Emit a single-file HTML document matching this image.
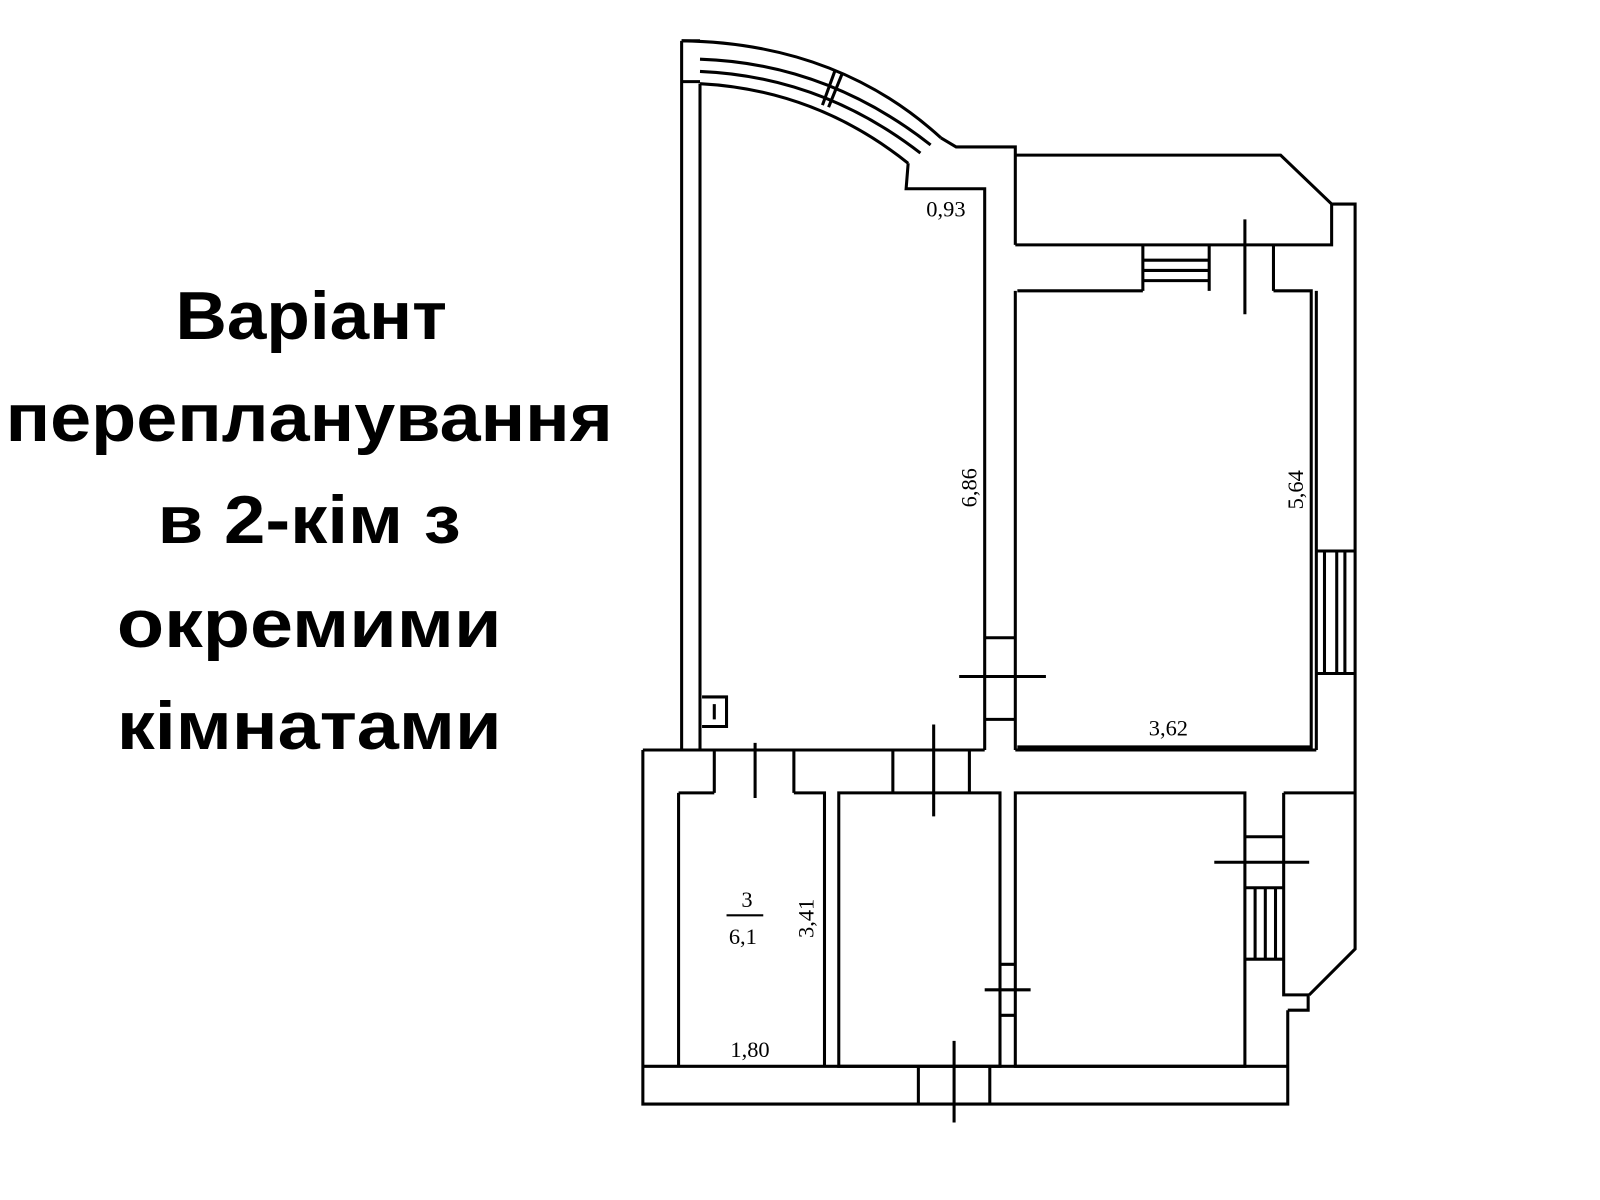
<!DOCTYPE html>
<html><head><meta charset="utf-8"><style>
html,body{margin:0;padding:0;background:#fff;width:1600px;height:1200px;overflow:hidden}
svg{display:block}
</style></head><body>
<svg width="1600" height="1200" viewBox="0 0 1568 1176" preserveAspectRatio="none" xmlns="http://www.w3.org/2000/svg">
<g font-family="'Liberation Sans','DejaVu Sans',sans-serif" font-weight="bold" font-size="66" fill="#000" text-anchor="middle">
<text x="305" y="332" textLength="266" lengthAdjust="spacingAndGlyphs">Варіант</text>
<text x="303" y="432" textLength="595" lengthAdjust="spacingAndGlyphs">перепланування</text>
<text x="303" y="532" textLength="297" lengthAdjust="spacingAndGlyphs">в 2-кім з</text>
<text x="303" y="634" textLength="377" lengthAdjust="spacingAndGlyphs">окремими</text>
<text x="303" y="734" textLength="377" lengthAdjust="spacingAndGlyphs">кімнатами</text>
</g>
<g stroke="#000" stroke-width="3" fill="none">
<path d="M668 40 L668 735 M686 82 L686 735 M668 40 L686 40 M668 80 L686 80"/>
<path d="M668 40 Q820 42 922 135"/>
<path d="M686 58 Q810 62 912 142"/>
<path d="M686 70 Q805 75 902 150"/>
<path d="M686 82 Q800 88 890 160"/>
<path d="M818 70 L806 103 M825 73 L812 105"/>
<path d="M890 160 L888 185 L965 185 L965 735"/>
<path d="M922 135 L937 144 L995 144 L995 240 M995 285 L995 735"/>
<path d="M995 152 L1255 152 L1305 200 L1305 240 L995 240"/>
<path d="M1305 200 L1328 200 L1328 930 L1283 975"/>
<path d="M997 285 L1120 285 M1248 285 L1285 285 L1285 732 L997 732"/>
<path d="M1120 240 L1120 285 M1185 240 L1185 285 M1248 240 L1248 285 M1120 255 L1185 255 M1120 265 L1185 265 M1120 275 L1185 275"/>
<path d="M1220 215 L1220 308"/>
<path d="M1290 540 L1328 540 M1290 660 L1328 660 M1298 540 L1298 660 M1310 540 L1310 660 M1318 540 L1318 660 M1290 285 L1290 735"/>
<path d="M965 625 L995 625 M965 705 L995 705 M940 663 L1025 663"/>
<path d="M688 683 L712 683 L712 712 L688 712 M700 690 L700 705"/>
<path d="M630 735 L965 735 M995 735 L1290 735"/>
<path d="M630 735 L630 1082 L1262 1082 L1262 990"/>
<path d="M665 777 L700 777 M778 777 L808 777 L808 1045 M665 777 L665 1045"/>
<path d="M700 735 L700 777 M778 735 L778 777 M740 728 L740 782"/>
<path d="M822 777 L980 777 L980 1045 L822 1045 Z"/>
<path d="M875 735 L875 777 M950 735 L950 777 M915 710 L915 800"/>
<path d="M995 777 L1220 777 L1220 1045 L995 1045 Z"/>
<path d="M1258 777 L1328 777 M1258 777 L1258 975 L1282 975 L1282 990 L1262 990"/>
<path d="M630 1045 L1262 1045"/>
<path d="M900 1045 L900 1082 M970 1045 L970 1082 M935 1020 L935 1100"/>
<path d="M1220 820 L1258 820 M1220 870 L1258 870 M1190 845 L1283 845 M1220 940 L1258 940 M1230 870 L1230 940 M1240 870 L1240 940 M1250 870 L1250 940"/>
<path d="M980 945 L995 945 M980 995 L995 995 M965 970 L1010 970"/>
</g>
<g font-family="'Liberation Serif',serif" font-size="22" fill="#000" text-anchor="middle">
<text x="927" y="212">0,93</text>
<text x="1145" y="721">3,62</text>
<text x="735" y="1036">1,80</text>
<text x="732" y="889">3</text>
<text x="728" y="925">6,1</text>
<text transform="translate(957,478) rotate(-90)">6,86</text>
<text transform="translate(1277,480) rotate(-90)">5,64</text>
<text transform="translate(797,900) rotate(-90)">3,41</text>
</g>
<line x1="712" y1="897" x2="748" y2="897" stroke="#000" stroke-width="2"/>
</svg>
</body></html>
